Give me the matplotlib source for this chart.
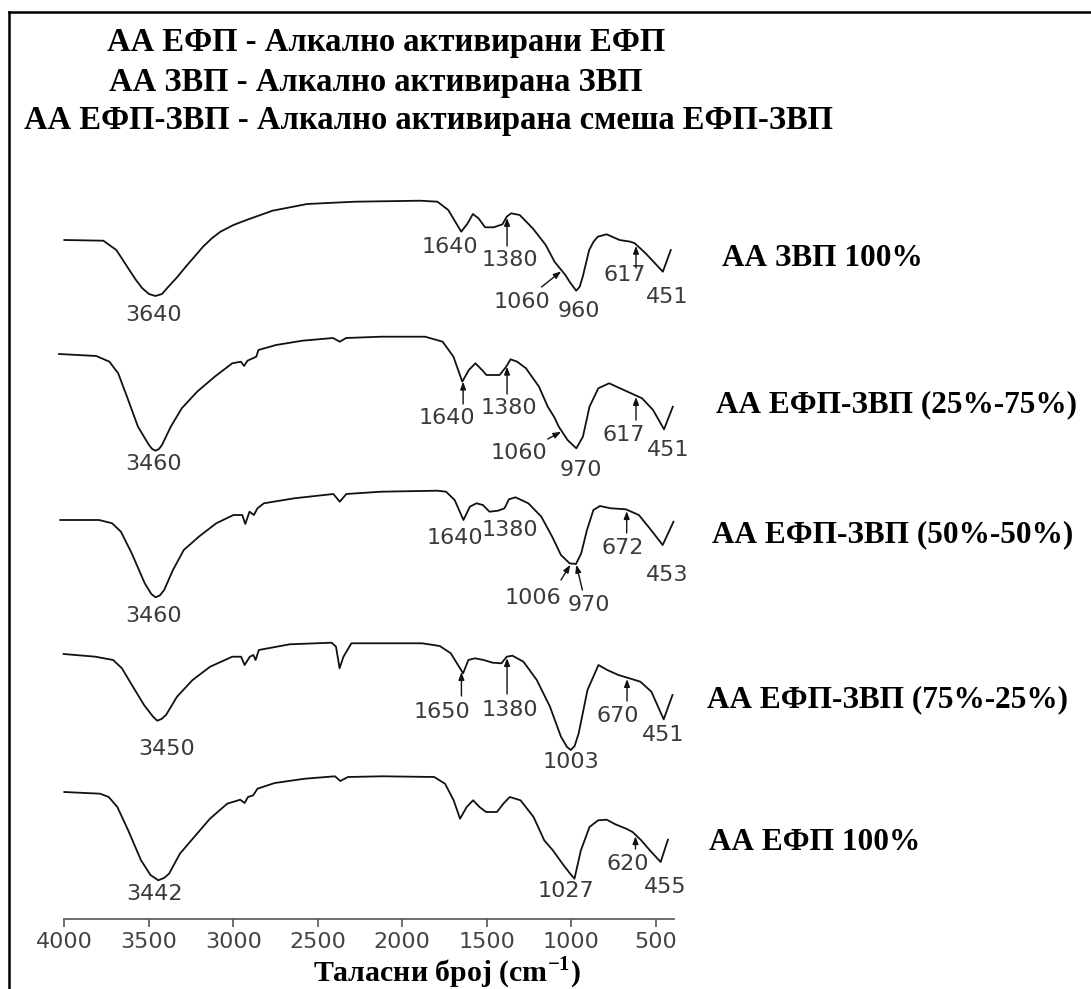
import numpy as np
import matplotlib
matplotlib.use("Agg")
import matplotlib.pyplot as plt
from matplotlib.lines import Line2D

plt.rcParams["mathtext.fontset"] = "custom"
plt.rcParams["mathtext.rm"] = "Liberation Serif"
plt.rcParams["mathtext.bf"] = "Liberation Serif:bold"

# ---------------------------------------------------------------- spectra
# FTIR transmittance (arbitrary units, relative to the 4000 cm-1 level)

wn_zvp100 = [4000, 3769, 3692, 3615, 3576, 3538, 3499, 3461, 3422, 3384, 3333, 3281,
             3230, 3179, 3127, 3076, 2999, 2922, 2768, 2563, 2280, 1895, 1792, 1728,
             1651, 1613, 1582, 1549, 1510, 1459, 1407, 1382, 1356, 1305, 1228, 1151,
             1099, 1035, 1010, 971, 950, 932, 894, 868, 843, 791, 714, 650, 624, 560,
             458, 411]
t_zvp100 = [0, -0.7, -10, -30, -40, -48.3, -54, -56, -54, -46.7, -37.3, -26.7,
            -16.7, -6.7, 1.7, 8.3, 15, 20, 29.3, 36, 38.3, 39.3, 38.3, 30,
            8.3, 16.7, 26, 21.7, 12.7, 12.7, 15.7, 23.3, 26.7, 25, 11.7, -5,
            -21.7, -35, -41.7, -50.7, -46.7, -36.7, -10, -1.7, 3.3, 5.7, 0, -1.7, -3.3,
            -13.3, -31.7, -10]

wn_mix25 = [4031, 3811, 3733, 3681, 3629, 3564, 3499, 3480, 3460, 3440, 3422, 3370,
            3305, 3214, 3110, 3006, 2955, 2936, 2916, 2864, 2851, 2747, 2591, 2410,
            2370, 2332, 2124, 1865, 1761, 1697, 1645, 1606, 1567, 1528, 1502, 1424,
            1385, 1359, 1320, 1268, 1191, 1139, 1100, 1074, 1022, 970, 931, 892, 840,
            776, 711, 646, 581, 516, 451, 399]
t_mix25 = [0, -2, -7.7, -19.3, -42.7, -72.7, -91, -95, -96.7, -95, -91, -72.7,
           -54.3, -37.7, -22.7, -9.3, -7.7, -12, -6.7, -2.7, 4, 9, 13.3, 16,
           12.3, 16, 17.3, 17.3, 12.3, -2.7, -27.7, -16, -9.3, -16, -21, -21,
           -12.7, -5.3, -7.7, -14.3, -32.7, -52.7, -63.3, -72.7, -86, -94.3, -82.7,
           -52.7, -34.3, -29.3, -34.3, -39.3, -44.3, -56, -75.3, -52.7]

wn_mix50 = [4024, 3794, 3717, 3665, 3601, 3524, 3485, 3460, 3435, 3409, 3357, 3293,
            3204, 3101, 2999, 2947, 2929, 2904, 2878, 2857, 2819, 2639, 2408, 2370,
            2331, 2126, 1792, 1741, 1690, 1638, 1600, 1561, 1523, 1484, 1433, 1395,
            1369, 1330, 1254, 1177, 1113, 1061, 1010, 972, 941, 907, 869, 830, 766,
            677, 600, 536, 459, 395]
t_mix50 = [0, 0, -3.3, -11.7, -33.3, -63.3, -74, -77.3, -75.5, -70, -50, -30,
           -16.7, -3.3, 5, 5, -4, 8.3, 5, 11.7, 16.7, 21.7, 26, 18.3,
           26, 28.3, 29.3, 28.3, 20, 0, 13.3, 16.7, 15, 8.3, 9.3, 11.7,
           20.7, 22.7, 16.7, 3.3, -16.7, -35, -43.3, -44, -33.3, -10, 10, 14, 11.7,
           10.7, 5, -8.3, -25, -1.7]

wn_mix75 = [4004, 3816, 3711, 3659, 3594, 3528, 3478, 3450, 3425, 3398, 3333, 3241,
            3137, 3006, 2954, 2933, 2902, 2881, 2868, 2849, 2666, 2418, 2392, 2371,
            2348, 2301, 1883, 1778, 1713, 1640, 1609, 1570, 1518, 1466, 1413, 1382,
            1348, 1283, 1204, 1126, 1061, 1025, 1003, 980, 956, 904, 839, 787, 721,
            656, 591, 526, 453, 401]
t_mix75 = [0, -2.7, -6, -14.3, -32.7, -51, -62, -66.7, -65, -61, -42.7, -26,
           -12.7, -2.7, -2.7, -11, -2.7, -1, -6, 4, 9.7, 11.3, 7.3, -14.3,
           -2.7, 10.7, 10.7, 8, 0.7, -19.3, -6, -4.3, -6, -8.7, -9.3, -2.7,
           -1.7, -7.7, -26, -52.7, -82.7, -93, -96, -92, -79.3, -36, -11, -16,
           -21, -24.3, -27.7, -37.7, -65.3, -41]

wn_efp100 = [4000, 3788, 3737, 3686, 3622, 3546, 3490, 3444, 3410, 3380, 3316, 3240,
             3138, 3036, 2959, 2933, 2913, 2882, 2857, 2755, 2576, 2398, 2367, 2321,
             2117, 1811, 1747, 1696, 1658, 1619, 1581, 1543, 1504, 1440, 1402, 1364,
             1300, 1223, 1160, 1109, 1045, 1005, 981, 943, 892, 841, 790, 739, 675,
             637, 586, 535, 471, 428]
t_efp100 = [0, -1.7, -5, -15, -38.3, -68.3, -83, -88.3, -86, -81.7, -61.7, -46.7,
            -26.7, -11.7, -7.7, -11, -5, -3.3, 3.3, 9, 13.3, 15.7, 11, 15,
            15.7, 15, 8.3, -8.3, -26.7, -15, -8.3, -15, -20, -20, -11.7, -5,
            -8.3, -25, -48.3, -58.3, -73.3, -82, -86.7, -58.3, -35, -28.3, -27.7,
            -32.3, -36.7, -40, -48.3, -58.3, -70, -47.7]

sample_names = ["АА ЗВП 100%", "АА ЕФП-ЗВП (25%-75%)", "АА ЕФП-ЗВП (50%-50%)",
                "АА ЕФП-ЗВП (75%-25%)", "АА ЕФП 100%"]

# peak labels of each spectrum
peaks_zvp100 = ["3640", "1640", "1380", "1060", "960", "617", "451"]
peaks_mix25 = ["3460", "1640", "1380", "1060", "970", "617", "451"]
peaks_mix50 = ["3460", "1640", "1380", "1006", "970", "672", "453"]
peaks_mix75 = ["3450", "1650", "1380", "1003", "670", "451"]
peaks_efp100 = ["3442", "1027", "620", "455"]

legend_lines = ["АА ЕФП - Алкално активирани ЕФП",
                "АА ЗВП - Алкално активирана ЗВП",
                "АА ЕФП-ЗВП - Алкално активирана смеша ЕФП-ЗВП"]

x_ticks = [4000, 3500, 3000, 2500, 2000, 1500, 1000, 500]

# ---------------------------------------------------------------- layout
W, H = 1091, 989
fig = plt.figure(figsize=(W / 100, H / 100), dpi=100)
fig.patch.set_facecolor("white")


def fx(px):
    return px / W


def fy(py):
    return 1 - py / H


ax = fig.add_axes([fx(64.3), fy(919), (674 - 64.3) / W, (919 - 160) / H])
ax.set_xlim(4000, 392)
ax.set_ylim(0, 759)
ax.patch.set_visible(False)

# vertical stacking of the spectra
stack_levels = [679, 565, 399, 265, 127]

# label placement: (text x, text dy, arrow tail x or None, arrow tail dy)
label_layout = [
    [(3474, -75, None, 0), (1720, -7, None, 0), (1364, -20, 1380, -6),
     (1292, -62, 1176, -47), (953, -71, None, 0), (682, -35, 617, -28),
     (432, -57, None, 0)],
    [(3473, -110, None, 0), (1735, -64, 1640, -50), (1372, -54, 1380, -40),
     (1307, -99, 1139, -85), (944, -116, None, 0), (687, -81, 617, -66),
     (425, -96, None, 0)],
    [(3473, -96, None, 0), (1690, -18, None, 0), (1364, -10, None, 0),
     (1228, -78, 1061, -60), (896, -85, 934, -70), (698, -28, 672, -13),
     (433, -55, None, 0)],
    [(3392, -95, None, 0), (1765, -58, 1650, -42), (1361, -56, 1380, -40),
     (1000, -108, None, 0), (723, -62, 670, -47), (458, -81, None, 0)],
    [(3467, -102, None, 0), (1031, -99, None, 0), (667, -72, 620, -57),
     (441, -95, None, 0)],
]

series = [(wn_zvp100, t_zvp100, peaks_zvp100),
          (wn_mix25, t_mix25, peaks_mix25),
          (wn_mix50, t_mix50, peaks_mix50),
          (wn_mix75, t_mix75, peaks_mix75),
          (wn_efp100, t_efp100, peaks_efp100)]

name_pos = [(722, 258), (716, 405), (712, 535), (707, 700), (709, 843)]

for (wn, t, peaks), level, layout, npos, name in zip(series, stack_levels,
                                                     label_layout, name_pos,
                                                     sample_names):
    wn = np.asarray(wn, float)
    t = np.asarray(t, float)
    ax.plot(wn, t + level, color="#111111", lw=1.3, clip_on=False,
            solid_joinstyle="round")
    for peak, (tx, tdy, ax_tail, tail_dy) in zip(peaks, layout):
        ax.text(tx, level + tdy, peak, ha="center", va="center", fontsize=16,
                color="#3a3a3a", family="DejaVu Sans")
        if ax_tail is not None:
            tip_x = float(peak)
            tip_y = np.interp(tip_x, wn[::-1], t[::-1]) - 1.5
            ax.annotate("", xy=(tip_x, level + tip_y),
                        xytext=(ax_tail, level + tail_dy),
                        arrowprops=dict(arrowstyle="-|>,head_length=0.45,head_width=0.17",
                                        color="#111111", lw=1.0,
                                        shrinkA=0, shrinkB=0))
    fig.text(fx(npos[0]), fy(npos[1]), name, ha="left", va="center",
             fontsize=22.5, fontweight="bold", family="Liberation Serif")

# axis styling: only the bottom wavenumber axis
for side in ("left", "right", "top"):
    ax.spines[side].set_visible(False)
ax.spines["bottom"].set_color("#555555")
ax.spines["bottom"].set_linewidth(1.2)
ax.set_yticks([])
ax.set_xticks(x_ticks)
ax.set_xticklabels([str(v) for v in x_ticks])
ax.tick_params(axis="x", direction="out", length=6, width=1.2, color="#555555",
               labelsize=16, labelcolor="#444444", pad=3)

fig.text(fx(447), fy(982), r"Таласни број (cm$^{\mathbf{-1}}$)", ha="center",
         va="baseline", fontsize=21.5, fontweight="bold", family="Liberation Serif")

# abbreviations block
for line, (cx, cy) in zip(legend_lines, [(386, 43), (376, 82), (428, 120)]):
    fig.text(fx(cx), fy(cy), line, ha="center", va="center", fontsize=23.5,
             fontweight="bold", family="Liberation Serif")

# frame lines along the top and left edges
fig.add_artist(Line2D([fx(9), 1.0], [fy(12), fy(12)], color="black", lw=1.8))
fig.add_artist(Line2D([fx(9), fx(9)], [fy(12), 0.0], color="black", lw=1.8))

fig.savefig("out.png", dpi=100, facecolor="white")
